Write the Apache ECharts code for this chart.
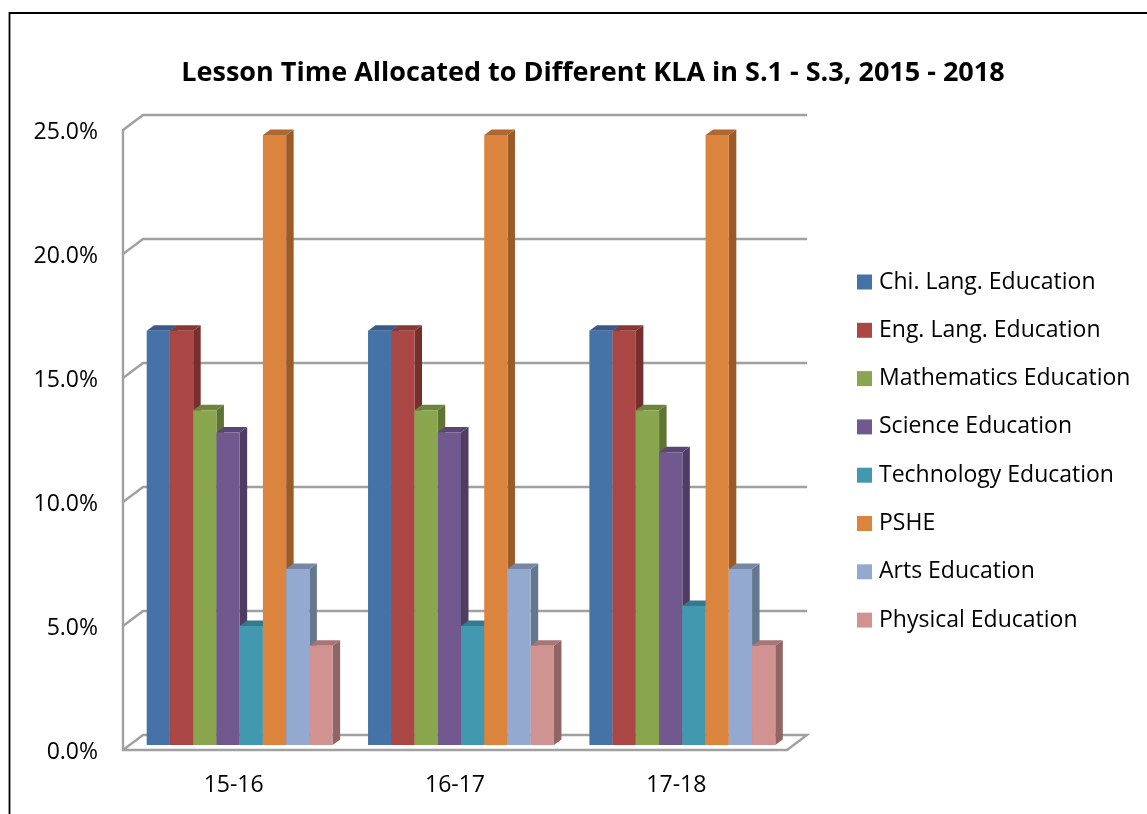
<!DOCTYPE html>
<html>
<head>
<meta charset="utf-8">
<script src="https://cdn.jsdelivr.net/npm/echarts@6/dist/echarts.min.js"></script>
<style>html,body{margin:0;padding:0;background:#fff}#c{width:1147px;height:814px}</style>
</head>
<body>
<div id="c"></div>
<script>
const categories = ['15-16', '16-17', '17-18'];
const chiLang = [16.7, 16.7, 16.7];
const engLang = [16.7, 16.7, 16.7];
const maths = [13.5, 13.5, 13.5];
const science = [12.6, 12.6, 11.8];
const technology = [4.8, 4.8, 5.6];
const pshe = [24.6, 24.6, 24.6];
const arts = [7.1, 7.1, 7.1];
const physical = [4.0, 4.0, 4.0];
const yTicks = [0, 5, 10, 15, 20, 25];
const seriesNames = ['Chi. Lang. Education', 'Eng. Lang. Education', 'Mathematics Education', 'Science Education', 'Technology Education', 'PSHE', 'Arts Education', 'Physical Education'];
const seriesValues = [chiLang, engLang, maths, science, technology, pshe, arts, physical];
const colors = ['#4572A7', '#AA4643', '#89A54E', '#71588F', '#4198AF', '#DB843D', '#93A9CF', '#D19392'];
const sides = ['#2F4E74', '#762F2D', '#5F7335', '#4E3C63', '#2C6879', '#9A5B28', '#65768F', '#906564'];
const tops = ['#38598A', '#883735', '#6D843D', '#5A4672', '#34798C', '#AF6930', '#7587A5', '#A77574'];

const FONT = '"Open Sans", Lato, sans-serif';
const WALL_DX = 20, WALL_DY = 15;      // depth of the floor
const BAR_DX = 6, BAR_DY = 5;          // bars stand a little behind the front edge
const DEPTH_DX = 7.5, DEPTH_DY = 5.5;  // depth of each bar
const GRID_STROKE = '#A0A0A0';

function wallItem(params, api) {
  const cs = params.coordSys;
  const y = api.coord([0, api.value(0)])[1];
  const x0 = cs.x, x1 = cs.x + cs.width;
  const pts = [[x0, y], [x0 + WALL_DX, y - WALL_DY], [x1 + WALL_DX, y - WALL_DY]];
  if (api.value(0) === 0) pts.push([x1, y]);
  return {
    type: 'polyline',
    shape: { points: pts },
    style: { fill: null, stroke: GRID_STROKE, lineWidth: 2.4, lineJoin: 'miter' }
  };
}

function barItem(i) {
  return function (params, api) {
    const cat = api.value(0);
    const top = api.coord([cat, api.value(1)]);
    const base = api.coord([cat, 0]);
    const w = api.size([1, 0])[0] * 0.105;
    const x0 = top[0] - 4 * w + i * w + BAR_DX;
    const x1 = x0 + w;
    const yT = top[1] - BAR_DY;
    const yB = base[1] - BAR_DY;
    return {
      type: 'group',
      children: [
        { type: 'polygon', shape: { points: [[x1, yT], [x1 + DEPTH_DX, yT - DEPTH_DY], [x1 + DEPTH_DX, yB - DEPTH_DY], [x1, yB]] }, style: { fill: sides[i] } },
        { type: 'polygon', shape: { points: [[x0, yT], [x0 + DEPTH_DX, yT - DEPTH_DY], [x1 + DEPTH_DX, yT - DEPTH_DY], [x1, yT]] }, style: { fill: tops[i] } },
        { type: 'rect', shape: { x: x0, y: yT, width: w, height: yB - yT }, style: { fill: colors[i] } }
      ]
    };
  };
}

const chart = echarts.init(document.getElementById('c'), null, { renderer: 'canvas' });
chart.setOption({
  animation: false,
  backgroundColor: '#fff',
  textStyle: { fontFamily: FONT },
  title: {
    text: 'Lesson Time Allocated to Different KLA in S.1 - S.3, 2015 - 2018',
    left: 588, top: 55, textAlign: 'center',
    textStyle: { fontFamily: FONT, fontSize: 27, fontWeight: 'bold', color: '#000' }
  },
  graphic: [{
    type: 'polyline', silent: true, z: -1,
    shape: { points: [[9.5, 860], [9.5, 13], [1160, 13]] },
    style: { fill: null, stroke: '#000', lineWidth: 1.8 }
  }],
  legend: {
    orient: 'vertical', left: 857, top: 270.5, padding: 0,
    icon: 'rect', itemWidth: 15, itemHeight: 15, itemGap: 25.3,
    data: seriesNames,
    textStyle: { fontFamily: FONT, fontSize: 23, color: '#000', lineHeight: 22, padding: [0, 0, 0, 2] }
  },
  grid: { left: 123, top: 130, width: 664, height: 620, containLabel: false },
  xAxis: {
    type: 'category', data: categories,
    axisLine: { show: true, lineStyle: { color: GRID_STROKE, width: 2.4 } },
    axisTick: { show: false },
    axisLabel: { fontFamily: FONT, fontSize: 23, color: '#000', margin: 24 },
    splitLine: { show: false }
  },
  yAxis: {
    type: 'value', min: 0, max: 25, interval: 5,
    axisLine: { show: true, lineStyle: { color: GRID_STROKE, width: 2.4 } },
    axisTick: { show: false },
    splitLine: { show: false },
    axisLabel: { fontFamily: FONT, fontSize: 23, color: '#000', margin: 25, verticalAlign: 'top', lineHeight: 4, formatter: v => v.toFixed(1) + '%' }
  },
  series: [
    { type: 'custom', name: 'walls', data: yTicks.map(t => [t]), encode: { y: 0 }, renderItem: wallItem, silent: true, z: 1 }
  ].concat(seriesNames.map((name, i) => ({
    type: 'custom',
    name,
    z: 2,
    itemStyle: { color: colors[i] },
    data: categories.map((c, k) => [k, seriesValues[i][k]]),
    encode: { x: 0, y: 1 },
    renderItem: barItem(i)
  })))
});
</script>
</body>
</html>
